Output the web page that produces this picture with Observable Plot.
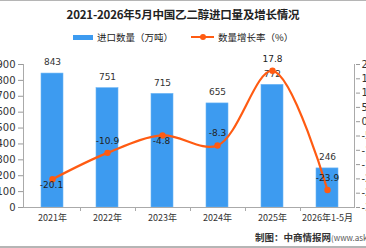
<!DOCTYPE html>
<html>
<head>
<meta charset="utf-8">
<script src="https://cdn.jsdelivr.net/npm/d3@7"></script>
<script src="https://cdn.jsdelivr.net/npm/@observablehq/plot@0.6"></script>
<style>
  html, body { margin: 0; padding: 0; background: #fff; overflow: hidden; }
  #wrap {
    position: relative; width: 366px; height: 248px; overflow: hidden;
    box-sizing: border-box; border-top: 1px solid #b5b5b5; border-bottom: 2px solid #b5b5b5;
    font-family: "Noto Sans CJK SC", "Noto Sans", sans-serif; color: #222;
  }
  #title {
    position: absolute; top: 5px; left: 0; width: 366px; text-align: center;
    font-size: 11.5px; font-weight: bold; letter-spacing: -0.2px;
  }
  #legend {
    position: absolute; top: 29px; left: 73px; font-size: 9.5px; display: flex; align-items: center;
    white-space: nowrap;
  }
  .sw-bar { width: 20px; height: 5px; background: #3d9bf0; margin-right: 4px; }
  .sw-line { position: relative; width: 23px; height: 2px; background: #ff5b12; margin-left: 18px; margin-right: 4px; }
  .sw-line::after { content: ""; position: absolute; left: 9px; top: -2.5px; width: 6px; height: 6px; border-radius: 50%; background: #ff5b12; }
  #chart { position: absolute; top: 45px; left: 0; }
  #caption {
    position: absolute; top: 229px; left: 255px; font-size: 9.5px; white-space: nowrap; font-weight: bold; color: #333;
  }
  #caption span { font-weight: normal; font-size: 8px; color: #555; }
</style>
</head>
<body>
<div id="wrap">
  <div id="title">2021-2026年5月中国乙二醇进口量及增长情况</div>
  <div id="legend">
    <div class="sw-bar"></div><span>进口数量（万吨）</span>
    <div class="sw-line"></div><span>数量增长率（%）</span>
  </div>
  <div id="chart"></div>
  <div id="caption">制图：中商情报网<span>(www.askci.com)</span></div>
</div>
<script>
// Import volume of ethylene glycol (10k tonnes) and year-on-year growth (%)
const years = ["2021年", "2022年", "2023年", "2024年", "2025年", "2026年1-5月"];
const volumes = [843, 751, 715, 655, 772, 246];
const growth = [-20.1, -10.9, -4.8, -8.3, 17.8, -23.9];
const volumeTicks = [0, 100, 200, 300, 400, 500, 600, 700, 800, 900];
const growthTicks = [20, 15, 10, 5, 0, -5, -10, -15, -20, -25, -30];

// The growth series shares the y scale: -30..20 % maps onto 0..900
const gMin = -30, gMax = 20, vMax = 900;
const toY = g => (g - gMin) / (gMax - gMin) * vMax;
const fromY = y => y / vMax * (gMax - gMin) + gMin;

const rows = years.map((year, i) => ({year, volume: volumes[i], growth: growth[i], gy: toY(growth[i]), i}));
// growth labels that sit under their point rather than above it
const labelBelow = new Set([0, 2]);

const barColor = "#3d9bf0";
const lineColor = "#ff5b12";
const numFont = "DejaVu Sans, sans-serif";

const chart = Plot.plot({
  width: 366,
  height: 183,
  marginLeft: 23,
  marginRight: 11,
  marginTop: 18,
  marginBottom: 22,
  style: {fontFamily: "Noto Sans CJK SC, sans-serif", fontSize: "9px", color: "#333", overflow: "visible"},
  x: {type: "band", domain: years, paddingInner: 0.6, paddingOuter: 0.3},
  y: {domain: [0, vMax]},
  marks: [
    Plot.barY(rows, {x: "year", y: "volume", fill: barColor, stroke: "#6cb5f5", strokeWidth: 0.6}),
    Plot.text(rows, {x: "year", y: "volume", text: d => String(d.volume), dy: -11, fontSize: 9, fill: "#333", fontFamily: numFont}),
    Plot.line(rows, {x: "year", y: "gy", stroke: lineColor, strokeWidth: 2.2, curve: "catmull-rom"}),
    Plot.dot(rows, {x: "year", y: "gy", r: 3.2, fill: lineColor}),
    Plot.text(rows.filter(d => labelBelow.has(d.i)), {
      x: "year", y: "gy", text: d => d.growth.toFixed(1), dy: 6, dx: -1, fontSize: 9, fill: "#222", fontFamily: numFont
    }),
    Plot.text(rows.filter(d => !labelBelow.has(d.i)), {
      x: "year", y: "gy", text: d => d.growth.toFixed(1), dy: -12, fontSize: 9, fill: "#222", fontFamily: numFont
    }),
    Plot.axisY({anchor: "left", ticks: volumeTicks, tickSize: 5, tickPadding: 3, label: null, fontSize: 10, stroke: "#999", fontFamily: numFont}),
    Plot.axisY({anchor: "right", ticks: growthTicks.map(toY), tickFormat: y => String(Math.round(fromY(y))), tickSize: 4, tickPadding: 2, label: null, fontSize: 10, stroke: "#999", fontFamily: numFont}),
    Plot.axisX({tickSize: 0, tickPadding: 7, label: null, fontSize: 9, fontFamily: "Noto Sans CJK SC, sans-serif"}),
    Plot.ruleY([0], {stroke: "#aaa"})
  ]
});

// Axis lines on both sides and tick marks at the category boundaries
const xs = chart.scale("x");
const ys = chart.scale("y");
const svg = d3.select(chart);
const y0 = ys.apply(0), yTop = ys.apply(vMax);
const xLeft = xs.range[0], xRight = xs.range[1];
svg.append("g").attr("stroke", "#aaa").attr("stroke-width", 1)
  .call(g => g.append("line").attr("x1", xLeft + 0.5).attr("x2", xLeft + 0.5).attr("y1", yTop).attr("y2", y0))
  .call(g => g.append("line").attr("x1", xRight - 0.5).attr("x2", xRight - 0.5).attr("y1", yTop).attr("y2", y0))
  .call(g => g.selectAll(".b").data(years.slice(0, -1)).join("line")
    .attr("x1", d => Math.round(xs.apply(d) + xs.bandwidth / 2 + xs.step / 2) + 0.5)
    .attr("x2", d => Math.round(xs.apply(d) + xs.bandwidth / 2 + xs.step / 2) + 0.5)
    .attr("y1", y0).attr("y2", y0 + 4));

document.getElementById("chart").append(chart);
</script>
</body>
</html>
